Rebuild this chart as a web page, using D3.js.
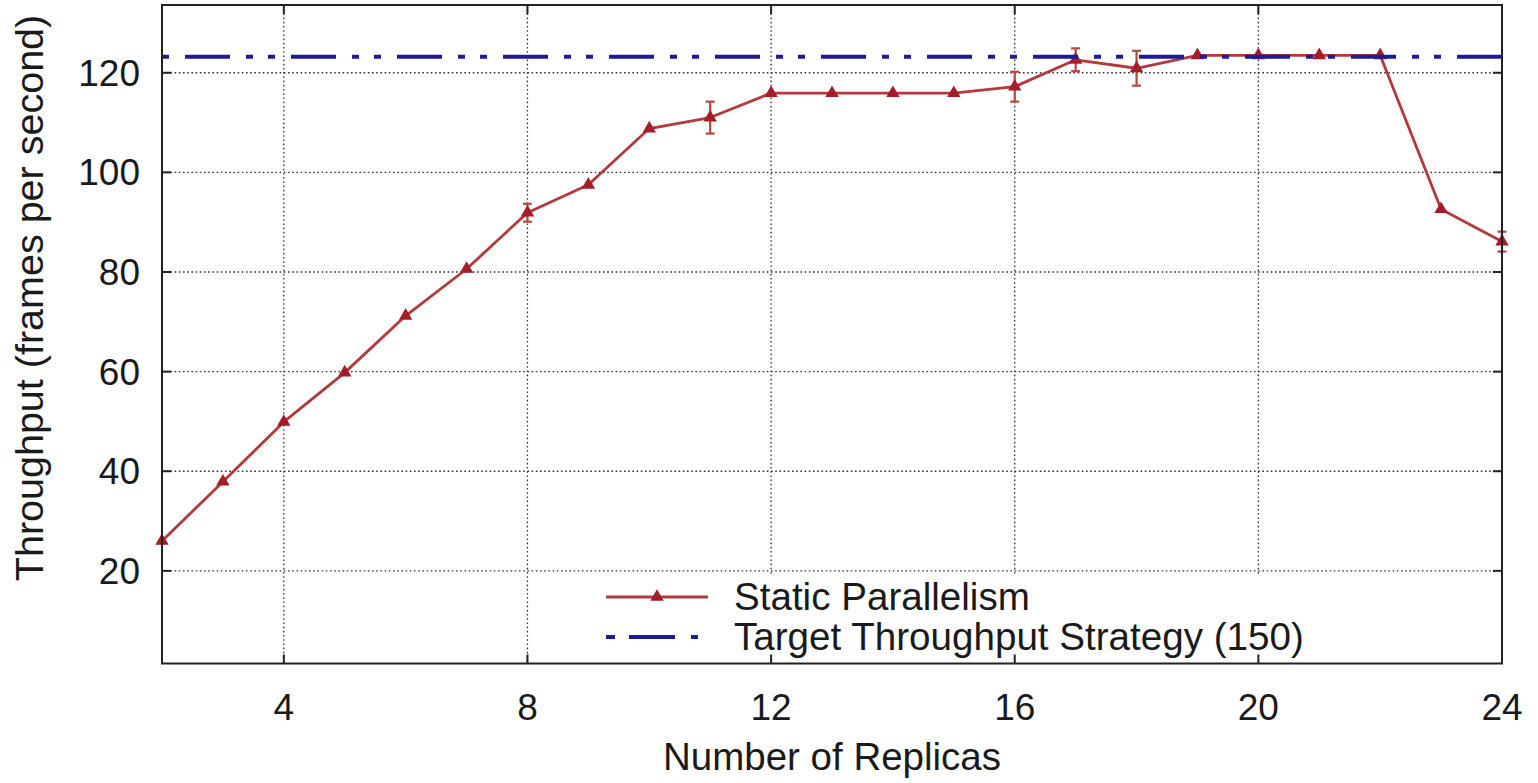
<!DOCTYPE html>
<html>
<head>
<meta charset="utf-8">
<script src="https://cdn.jsdelivr.net/npm/d3@7"></script>
<style>
  html, body { margin: 0; padding: 0; background: #fff; }
  svg { display: block; font-family: "Liberation Sans", Arial, Helvetica, sans-serif; }
</style>
</head>
<body>
<svg id="chart" width="1538" height="783"></svg>
<script>
// Throughput measured for each replica count (frames per second)
const replicas = [2, 3, 4, 5, 6, 7, 8, 9, 10, 11, 12, 13, 14, 15, 16, 17, 18, 19, 20, 21, 22, 23, 24];
const throughput = [26.0, 37.9, 49.9, 59.8, 71.2, 80.6, 91.9, 97.5, 108.8, 111.0, 115.9, 115.9,
                    115.9, 115.9, 117.2, 122.6, 120.9, 123.5, 123.5, 123.5, 123.5, 92.6, 86.1];
// Half-width of the error bar at each replica count (0 = no visible bar)
const errorHalf = [0, 0, 0, 0, 0, 0, 1.8, 0, 0, 3.2, 0, 0, 0, 0, 3.0, 2.3, 3.5, 0, 0, 0, 0, 0, 2.0];
// Throughput reached by the target-throughput strategy
const targetThroughput = 123.2;

const xTicks = [4, 8, 12, 16, 20, 24];
const yTicks = [20, 40, 60, 80, 100, 120];
const seriesNames = ["Static Parallelism", "Target Throughput Strategy (150)"];

const svg = d3.select("#chart");
const pLeft = 162, pRight = 1502, pTop = 5, pBottom = 663.5;

const x = d3.scaleLinear().domain([2, 24]).range([pLeft, pRight]);
const y = d3.scaleLinear().domain([1.4, 133.6]).range([pBottom, pTop]);

const red = "#b3393a", redMark = "#a41d27", errColor = "#b5483c", blue = "#1b1b9c";
const ink = "#1a1a1a";
const blueDash = "7,16,45,16,7,15";

// dotted grid
const grid = svg.append("g").attr("stroke", "#333").attr("stroke-width", 1.3)
  .attr("stroke-dasharray", "1.6,2.6");
grid.selectAll("line.gx").data(xTicks.filter(d => d < 24)).join("line").attr("class", "gx")
  .attr("x1", d => x(d)).attr("x2", d => x(d)).attr("y1", pTop).attr("y2", pBottom);
grid.selectAll("line.gy").data(yTicks).join("line").attr("class", "gy")
  .attr("y1", d => y(d)).attr("y2", d => y(d)).attr("x1", pLeft).attr("x2", pRight);

// legend background (opaque key box)
const legend = svg.append("g");
legend.append("rect").attr("x", 592).attr("y", 575).attr("width", 740).attr("height", 86).attr("fill", "#fff");

// measured series
const pts = replicas.map((r, i) => ({ r, v: throughput[i], e: errorHalf[i] }));
const plot = svg.append("g");
plot.append("path").datum(pts)
  .attr("fill", "none").attr("stroke", red).attr("stroke-width", 2.8).attr("stroke-linejoin", "round")
  .attr("d", d3.line().x(d => x(d.r)).y(d => y(d.v)));

const eb = plot.append("g").attr("stroke", errColor).attr("stroke-width", 2.2);
const withErr = pts.filter(d => d.e > 0);
eb.selectAll("line.v").data(withErr).join("line").attr("class", "v")
  .attr("x1", d => x(d.r)).attr("x2", d => x(d.r)).attr("y1", d => y(d.v - d.e)).attr("y2", d => y(d.v + d.e));
eb.selectAll("line.t").data(withErr).join("line").attr("class", "t")
  .attr("x1", d => x(d.r) - 4.5).attr("x2", d => x(d.r) + 4.5).attr("y1", d => y(d.v + d.e)).attr("y2", d => y(d.v + d.e));
eb.selectAll("line.b").data(withErr).join("line").attr("class", "b")
  .attr("x1", d => x(d.r) - 4.5).attr("x2", d => x(d.r) + 4.5).attr("y1", d => y(d.v - d.e)).attr("y2", d => y(d.v - d.e));

const tri = d3.symbol().type(d3.symbolTriangle).size(78);
plot.selectAll("path.m").data(pts).join("path").attr("class", "m")
  .attr("d", tri).attr("fill", redMark)
  .attr("transform", d => `translate(${x(d.r)},${y(d.v)})`);

// target throughput line
plot.append("line")
  .attr("x1", x(2)).attr("x2", x(24)).attr("y1", y(targetThroughput)).attr("y2", y(targetThroughput))
  .attr("stroke", blue).attr("stroke-width", 4).attr("stroke-dasharray", blueDash);

// legend entries
const ly1 = 597, ly2 = 637;
legend.append("line").attr("x1", 606).attr("x2", 708).attr("y1", ly1).attr("y2", ly1)
  .attr("stroke", red).attr("stroke-width", 2.8);
legend.append("path").attr("d", tri).attr("fill", redMark).attr("transform", `translate(657,${ly1})`);
legend.append("line").attr("x1", 606).attr("x2", 708).attr("y1", ly2).attr("y2", ly2)
  .attr("stroke", blue).attr("stroke-width", 4).attr("stroke-dasharray", "9,14,46,16,7,30");
legend.selectAll("text").data(seriesNames).join("text")
  .attr("x", 734).attr("y", (d, i) => [ly1, ly2][i] + 13)
  .attr("font-size", 38.6).attr("fill", ink).text(d => d);

// frame and inward ticks
const frame = svg.append("g").attr("stroke", "#222");
frame.append("rect").attr("x", pLeft).attr("y", pTop).attr("width", pRight - pLeft).attr("height", pBottom - pTop)
  .attr("fill", "none").attr("stroke-width", 2);
const tk = 9;
frame.selectAll("line.xb").data(xTicks).join("line").attr("class", "xb").attr("stroke-width", 2)
  .attr("x1", d => x(d)).attr("x2", d => x(d)).attr("y1", pBottom).attr("y2", pBottom - tk);
frame.selectAll("line.xt").data(xTicks).join("line").attr("class", "xt").attr("stroke-width", 2)
  .attr("x1", d => x(d)).attr("x2", d => x(d)).attr("y1", pTop).attr("y2", pTop + tk);
frame.selectAll("line.yl").data(yTicks).join("line").attr("class", "yl").attr("stroke-width", 2)
  .attr("y1", d => y(d)).attr("y2", d => y(d)).attr("x1", pLeft).attr("x2", pLeft + tk);
frame.selectAll("line.yr").data(yTicks).join("line").attr("class", "yr").attr("stroke-width", 2)
  .attr("y1", d => y(d)).attr("y2", d => y(d)).attr("x1", pRight).attr("x2", pRight - tk);

// tick labels
svg.append("g").selectAll("text").data(xTicks).join("text")
  .attr("x", d => x(d)).attr("y", 720).attr("text-anchor", "middle")
  .attr("font-size", 37).attr("fill", ink).text(d => d);
svg.append("g").selectAll("text").data(yTicks).join("text")
  .attr("x", 140).attr("y", d => y(d) + 13).attr("text-anchor", "end")
  .attr("font-size", 37).attr("fill", ink).text(d => d);

// axis titles
svg.append("text").attr("x", (pLeft + pRight) / 2).attr("y", 770).attr("text-anchor", "middle")
  .attr("font-size", 38.5).attr("fill", ink).text("Number of Replicas");
svg.append("text").attr("transform", "translate(43,298) rotate(-90)").attr("text-anchor", "middle")
  .attr("font-size", 39.5).attr("fill", ink).text("Throughput (frames per second)");
</script>
</body>
</html>
